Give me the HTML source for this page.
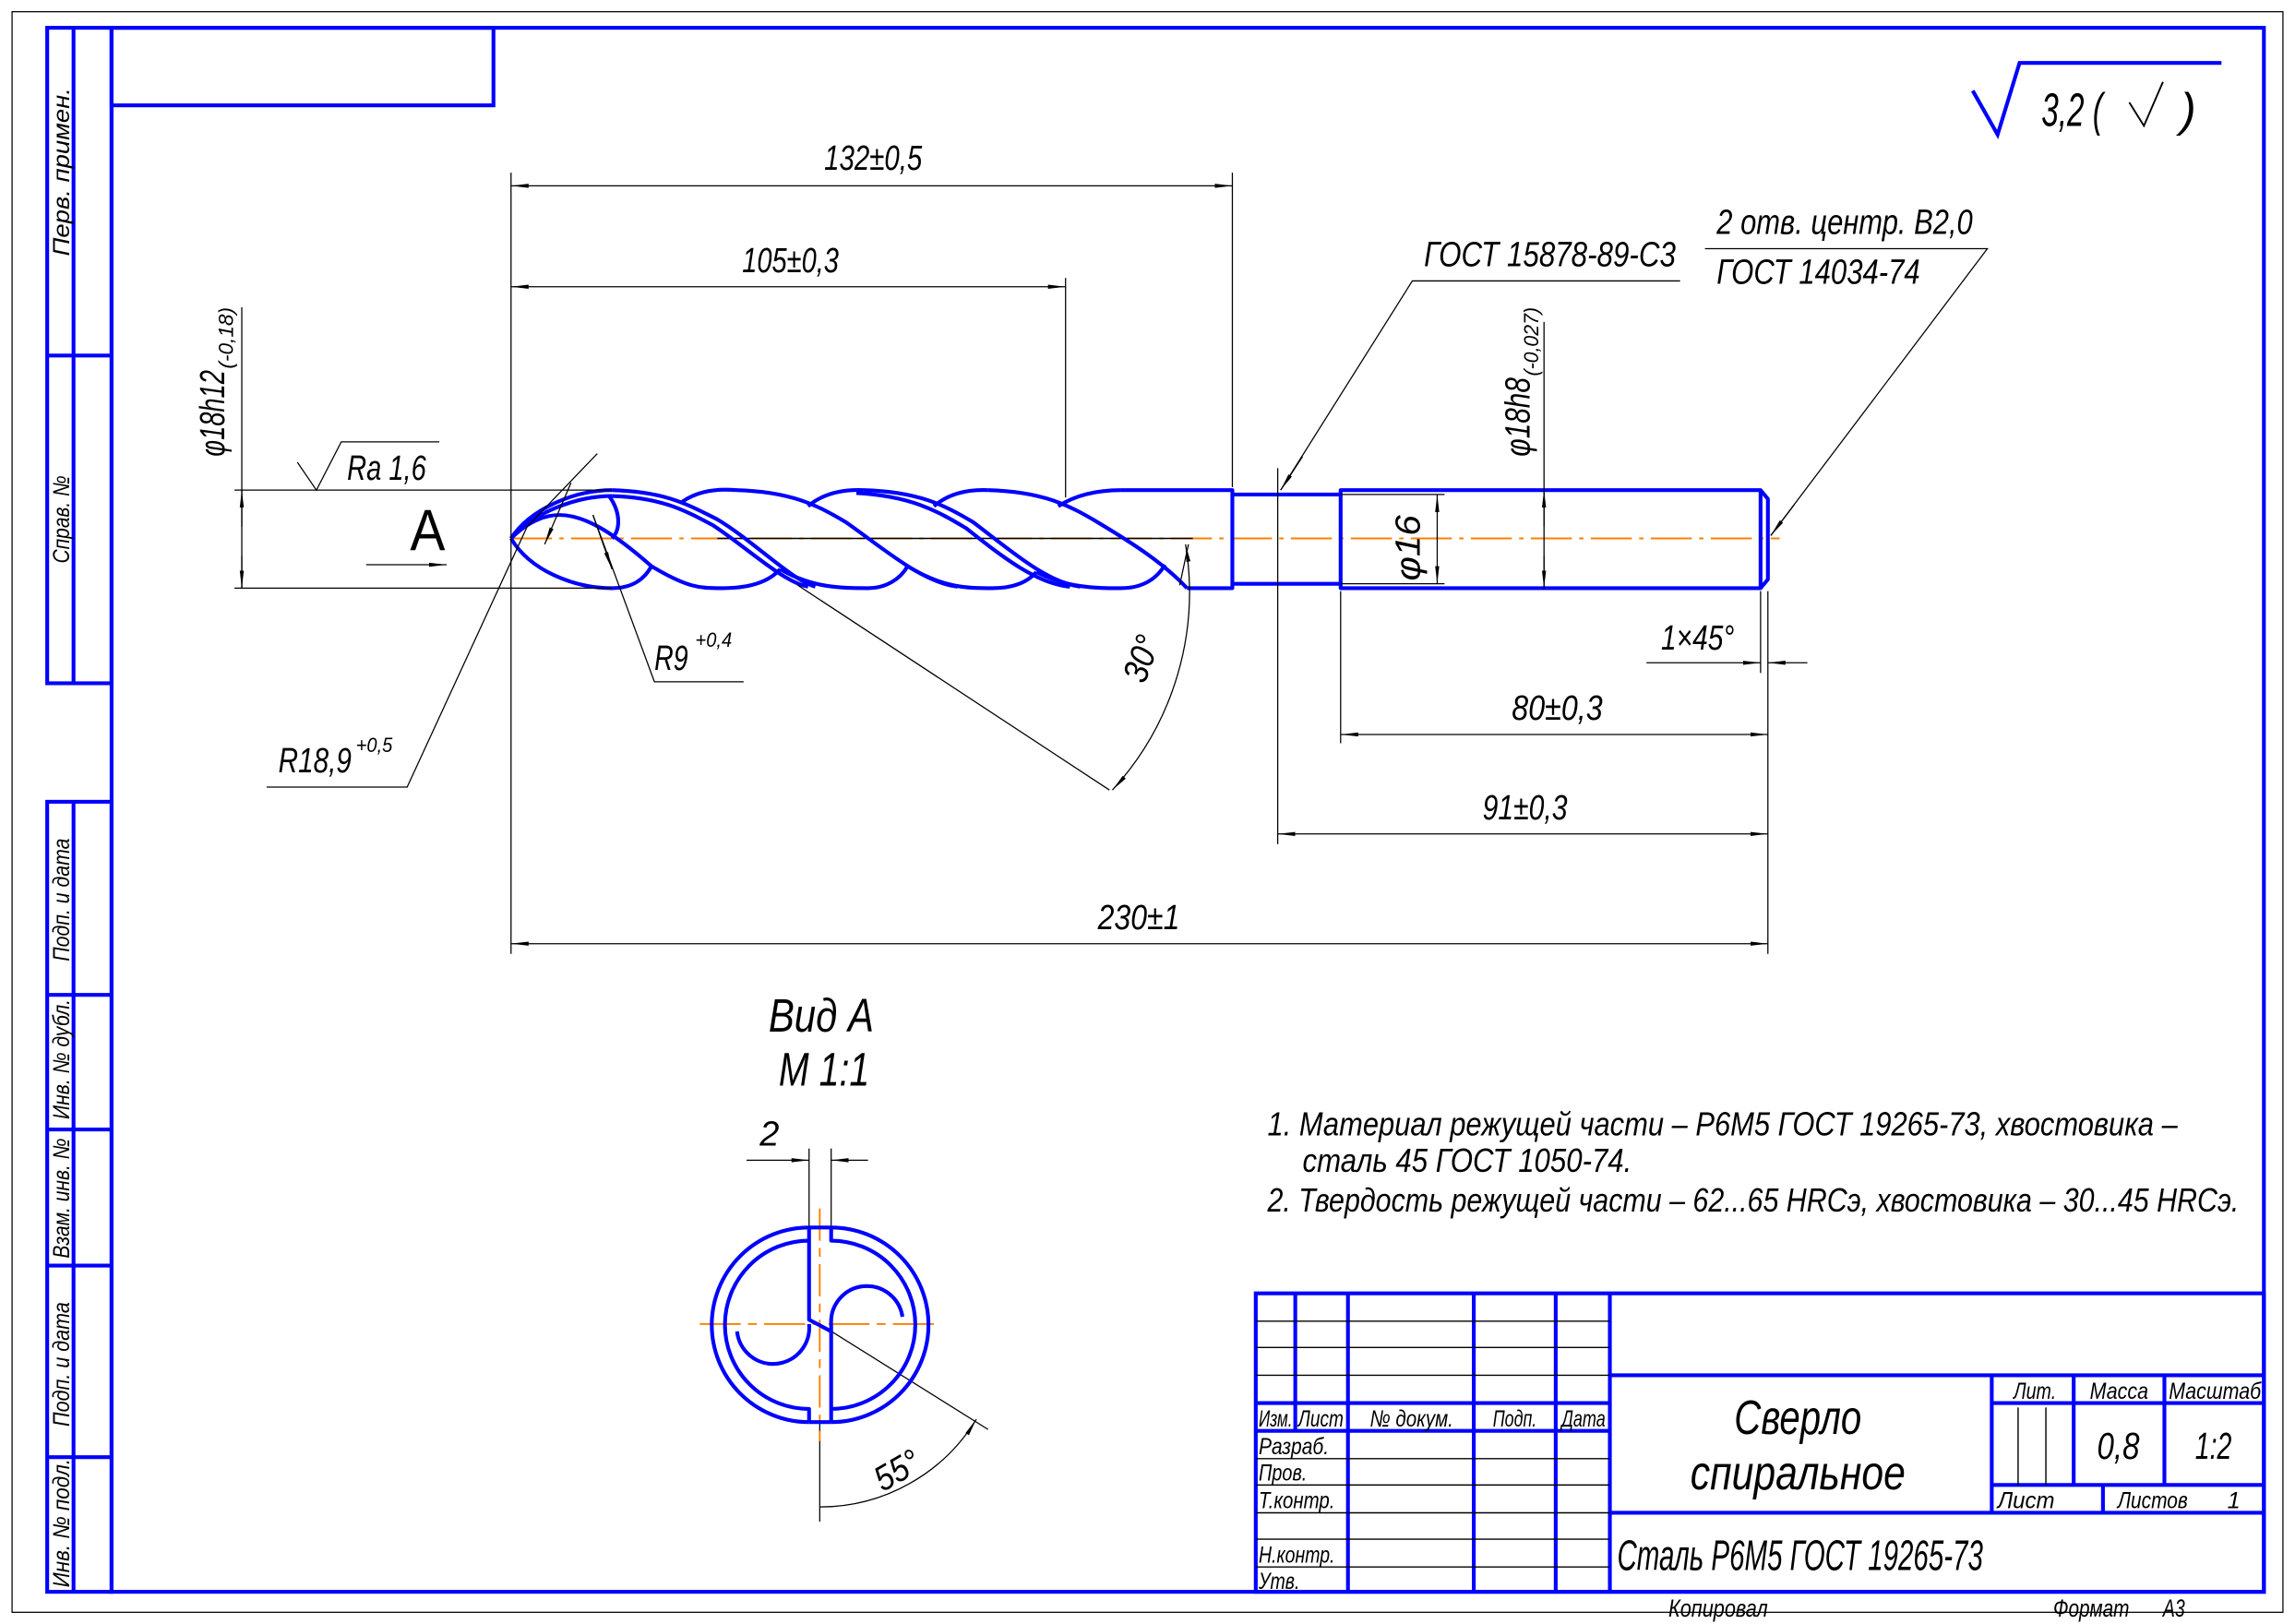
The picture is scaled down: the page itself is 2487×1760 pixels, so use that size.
<!DOCTYPE html>
<html><head><meta charset="utf-8">
<style>
html,body{margin:0;padding:0;background:#fff;}
svg{display:block;}
text{font-family:"Liberation Sans Narrow","Liberation Sans","DejaVu Sans",sans-serif;font-style:italic;fill:#000;}
</style></head>
<body>
<svg width="2487" height="1760" viewBox="0 0 1568 1110" xmlns="http://www.w3.org/2000/svg">
<defs>
<marker id="ar" viewBox="0 0 12 4" refX="12" refY="2" markerWidth="12" markerHeight="4" markerUnits="userSpaceOnUse" orient="auto-start-reverse">
<path d="M0,0.6 L12,2 L0,3.4 Z" fill="#000"/>
</marker>
</defs>
<rect x="0" y="0" width="1568" height="1110" fill="#fff"/>
<rect x="8" y="8" width="1552" height="1094" fill="none" stroke="#000" stroke-width="0.8"/>
<g stroke="#0000ff" stroke-width="2.6" fill="none">
<rect x="76" y="19" width="1471" height="1069"/>
<rect x="76" y="19" width="261" height="53"/>
<rect x="32" y="19" width="44" height="448"/>
<line x1="50" y1="19" x2="50" y2="467"/>
<line x1="32" y1="243" x2="76" y2="243"/>
<rect x="32" y="548" width="44" height="540"/>
<line x1="50" y1="548" x2="50" y2="1088"/>
<line x1="32" y1="680" x2="76" y2="680"/>
<line x1="32" y1="772" x2="76" y2="772"/>
<line x1="32" y1="865" x2="76" y2="865"/>
<line x1="32" y1="996" x2="76" y2="996"/>
</g>
<g font-size="16" lengthAdjust="spacingAndGlyphs">
<text transform="translate(47,175) rotate(-90)" textLength="115" lengthAdjust="spacingAndGlyphs">Перв. примен.</text>
<text transform="translate(47,385) rotate(-90)" textLength="60" lengthAdjust="spacingAndGlyphs">Справ. №</text>
<text transform="translate(47,657) rotate(-90)" textLength="84" lengthAdjust="spacingAndGlyphs">Подп. и дата</text>
<text transform="translate(47,765) rotate(-90)" textLength="82" lengthAdjust="spacingAndGlyphs">Инв. № дубл.</text>
<text transform="translate(47,860) rotate(-90)" textLength="82" lengthAdjust="spacingAndGlyphs">Взам. инв. №</text>
<text transform="translate(47,975) rotate(-90)" textLength="85" lengthAdjust="spacingAndGlyphs">Подп. и дата</text>
<text transform="translate(47,1085) rotate(-90)" textLength="88" lengthAdjust="spacingAndGlyphs">Инв. № подл.</text>
</g>

<polyline points="1348,62 1365,92 1380,43 1518,43" fill="none" stroke="#0000ff" stroke-width="2.6"/>
<text x="1395" y="86" font-size="32" textLength="42" lengthAdjust="spacingAndGlyphs">3,2 (</text>
<polyline points="1455,70 1465,86 1478,56" fill="none" stroke="#000" stroke-width="1.2"/>
<text x="1490" y="86" font-size="32">)</text>

<line x1="349" y1="368" x2="1216" y2="368" stroke="#ff8000" stroke-width="1.2" stroke-dasharray="28,5,3,5"/>
<line x1="490" y1="368" x2="815" y2="368" stroke="#000" stroke-width="0.9"/>

<g stroke="#0000ff" stroke-width="2.6" fill="none" stroke-linejoin="round">
<path d="M766,335 L842,335 L842,402 L811,402"/>
<path d="M842,338 L916,338 M842,399 L916,399"/>
<path d="M916,335 L1203,335 L1208,341 L1208,396 L1203,402 L916,402 Z"/>
<line x1="1203" y1="335" x2="1203" y2="402"/>
<path d="M349,368 C362,348 392,335 418,335"/>
<path d="M349,368 C362,352 392,339 418,339"/>
<path d="M349,368 C362,390 392,402 418,402 C432,402 440,396 445,387"/>
<path d="M349,368 C362,355 374,352 382,352 C400,352 420,365 445,387"/>
<path d="M416,339 C424,350 424,362 418,368"/>
<path d="M418,335 C455,336 470,345 490,355 C515,370 540,396 557,401"/>
<path d="M418,339 C452,340 468,349 487,359 C510,374 535,398 552,401"/>
<path d="M503,335 C540,336 558,345 578,357 C605,376 630,398 654,401"/>
<path d="M590,335 C627,336 645,345 665,357 C690,376 715,398 738,401"/>
<path d="M585,337 C622,339 640,349 660,361 C684,380 708,399 731,401"/>
<path d="M675,335 C712,336 730,345 750,357 C775,372 795,385 811,402"/>
<path d="M466,343 Q480,333 503,335"/>
<path d="M552,346 Q566,334 590,335"/>
<path d="M638,346 Q652,334 675,335"/>
<path d="M723,346 Q740,335 766,335"/>
<path d="M445,387 C470,402 478,402 494,402 C512,402 525,398 533,389"/>
<path d="M533,389 C555,402 575,402 593,402 C605,402 615,396 620,387"/>
<path d="M620,387 C645,402 660,402 678,402 C692,402 702,398 708,391"/>
<path d="M708,391 C730,402 748,402 766,402 C780,402 790,396 796,386"/>
</g>

<g stroke="#000" stroke-width="0.8" fill="none">
<line x1="349" y1="118" x2="349" y2="652"/>
<line x1="842" y1="118" x2="842" y2="333"/>
<line x1="349" y1="127" x2="842" y2="127" marker-start="url(#ar)" marker-end="url(#ar)"/>
<line x1="728" y1="190" x2="728" y2="340"/>
<line x1="349" y1="196" x2="728" y2="196" marker-start="url(#ar)" marker-end="url(#ar)"/>
<line x1="1208" y1="404" x2="1208" y2="652"/>
<line x1="349" y1="645" x2="1208" y2="645" marker-start="url(#ar)" marker-end="url(#ar)"/>
<line x1="873" y1="320" x2="873" y2="577"/>
<line x1="873" y1="570" x2="1208" y2="570" marker-start="url(#ar)" marker-end="url(#ar)"/>
<line x1="916" y1="404" x2="916" y2="508"/>
<line x1="916" y1="502" x2="1208" y2="502" marker-start="url(#ar)" marker-end="url(#ar)"/>
<line x1="1203" y1="404" x2="1203" y2="460"/>
<line x1="1125" y1="453" x2="1203" y2="453" marker-end="url(#ar)"/>
<line x1="1235" y1="453" x2="1208" y2="453" marker-end="url(#ar)"/>
<line x1="160" y1="335" x2="418" y2="335"/>
<line x1="160" y1="402" x2="418" y2="402"/>
<line x1="165" y1="210" x2="165" y2="402" />
<line x1="165" y1="360" x2="165" y2="335" marker-end="url(#ar)"/>
<line x1="165" y1="380" x2="165" y2="402" marker-end="url(#ar)"/>
<polyline points="203,316 216,335 233,302 300,302"/>
<line x1="250" y1="386" x2="305" y2="386" marker-end="url(#ar)"/>
<polyline points="182,538 278,538 360,360 408,310"/>
<line x1="390" y1="330" x2="372" y2="372" marker-end="url(#ar)"/>
<polyline points="508,466 447,466 405,352"/>
<line x1="405" y1="352" x2="418" y2="389" marker-end="url(#ar)"/>
<line x1="545" y1="400" x2="758" y2="540"/>
<line x1="812" y1="372" x2="806" y2="400"/>
<path d="M810,372 A200,200 0 0 1 760,540" marker-start="url(#ar)" marker-end="url(#ar)"/>
<polyline points="1148,192 965,192 875,335"/>
<line x1="890" y1="312" x2="875" y2="335" marker-end="url(#ar)"/>
<polyline points="1165,170 1358,170 1210,366"/>
<line x1="1226" y1="345" x2="1210" y2="366" marker-end="url(#ar)"/>
<line x1="1055" y1="220" x2="1055" y2="402"/>
<line x1="1055" y1="360" x2="1055" y2="335" marker-end="url(#ar)"/>
<line x1="1055" y1="380" x2="1055" y2="402" marker-end="url(#ar)"/>
<line x1="916" y1="338" x2="987" y2="338"/>
<line x1="916" y1="399" x2="987" y2="399"/>
<line x1="982" y1="338" x2="982" y2="399" marker-start="url(#ar)" marker-end="url(#ar)"/>
</g>
<g font-size="24">
<text x="563" y="116" textLength="67" lengthAdjust="spacingAndGlyphs">132±0,5</text>
<text x="507" y="186" textLength="66" lengthAdjust="spacingAndGlyphs">105±0,3</text>
<text x="750" y="635" textLength="56" lengthAdjust="spacingAndGlyphs">230±1</text>
<text x="1013" y="560" textLength="58" lengthAdjust="spacingAndGlyphs">91±0,3</text>
<text x="1033" y="492" textLength="62" lengthAdjust="spacingAndGlyphs">80±0,3</text>
<text x="1135" y="444" textLength="50" lengthAdjust="spacingAndGlyphs">1×45°</text>
<text x="237" y="328" textLength="54" lengthAdjust="spacingAndGlyphs">Ra 1,6</text>
<text x="190" y="528" textLength="50" lengthAdjust="spacingAndGlyphs">R18,9</text>
<text x="243" y="514" font-size="14" textLength="25" lengthAdjust="spacingAndGlyphs">+0,5</text>
<text x="447" y="458" textLength="23" lengthAdjust="spacingAndGlyphs">R9</text>
<text x="475" y="442" font-size="14" textLength="25" lengthAdjust="spacingAndGlyphs">+0,4</text>
<text transform="translate(782,468) rotate(-70)" textLength="32" lengthAdjust="spacingAndGlyphs">30°</text>
<text x="973" y="182" textLength="172" lengthAdjust="spacingAndGlyphs">ГОСТ 15878-89-С3</text>
<text x="1173" y="160" textLength="175" lengthAdjust="spacingAndGlyphs">2 отв. центр. В2,0</text>
<text x="1173" y="194" textLength="139" lengthAdjust="spacingAndGlyphs">ГОСТ 14034-74</text>
<text transform="translate(153,312) rotate(-90)"><tspan textLength="59" lengthAdjust="spacingAndGlyphs">φ18h12</tspan></text>
<text transform="translate(159,252) rotate(-90)" font-size="14" textLength="42" lengthAdjust="spacingAndGlyphs">(-0,18)</text>
<text transform="translate(1045,312) rotate(-90)"><tspan textLength="54" lengthAdjust="spacingAndGlyphs">φ18h8</tspan></text>
<text transform="translate(1051,257) rotate(-90)" font-size="14" textLength="47" lengthAdjust="spacingAndGlyphs">(-0,027)</text>
<text transform="translate(970,397) rotate(-90)" textLength="45" lengthAdjust="spacingAndGlyphs">φ16</text>
</g>
<text x="280" y="376" font-size="40" style="font-style:normal" textLength="24" lengthAdjust="spacingAndGlyphs">A</text>

<text x="525" y="705" font-size="32" textLength="72" lengthAdjust="spacingAndGlyphs">Вид А</text>
<text x="532" y="742" font-size="32" textLength="62" lengthAdjust="spacingAndGlyphs">М 1:1</text>
<text x="519" y="783" font-size="24">2</text>
<g stroke="#000" stroke-width="0.8" fill="none">
<line x1="552.7" y1="785" x2="552.7" y2="840"/>
<line x1="567.8" y1="785" x2="567.8" y2="840"/>
<line x1="510" y1="793" x2="552.7" y2="793" marker-end="url(#ar)"/>
<line x1="593" y1="793" x2="567.8" y2="793" marker-end="url(#ar)"/>
<line x1="560" y1="905" x2="675" y2="977"/>
<line x1="560" y1="972" x2="560" y2="1040"/>
<path d="M560,1030 A125,125 0 0 0 667,970" marker-end="url(#ar)"/>
</g>
<text transform="translate(603,1020) rotate(-30)" font-size="24" textLength="32" lengthAdjust="spacingAndGlyphs">55°</text>
<g stroke="#ff8000" stroke-width="1.2" fill="none">
<line x1="478" y1="905" x2="642" y2="905" stroke-dasharray="28,5,6,5"/>
<line x1="560" y1="826" x2="560" y2="985" stroke-dasharray="22,5,6,5"/>
</g>
<g stroke="#0000ff" stroke-width="2.6" fill="none" stroke-linejoin="round">
<path d="M552.7,839 A66,66 0 0 0 552.7,972"/>
<path d="M567.8,839 A66,66 0 0 1 567.8,972"/>
<line x1="552.7" y1="839" x2="567.8" y2="839"/>
<line x1="552.7" y1="972" x2="567.8" y2="972"/>
<path d="M552.7,839 L552.7,902 L567.8,910"/>
<path d="M567.8,839 L567.8,848 A57,57 0 0 1 567.8,963 M567.8,905 L567.8,972"/>
<path d="M552.7,848 A57,57 0 0 0 552.7,963 L552.7,972"/>
<path d="M552.7,905 A24.5,24.5 0 0 1 503.5,910"/>
<path d="M567.8,905 A24.5,24.5 0 0 1 616.5,900"/>
</g>

<g font-size="23">
<text x="866" y="776" textLength="622" lengthAdjust="spacingAndGlyphs">1. Материал режущей части – Р6М5 ГОСТ 19265-73, хвостовика –</text>
<text x="890" y="801" textLength="225" lengthAdjust="spacingAndGlyphs">сталь 45 ГОСТ 1050-74.</text>
<text x="866" y="828" textLength="664" lengthAdjust="spacingAndGlyphs">2. Твердость режущей части – 62...65 HRCэ, хвостовика – 30...45 HRCэ.</text>
</g>

<g stroke="#0000ff" stroke-width="2.6" fill="none">
<rect x="858" y="884" width="689" height="204"/>
<line x1="885" y1="884" x2="885" y2="978"/>
<line x1="921" y1="884" x2="921" y2="1088"/>
<line x1="1007" y1="884" x2="1007" y2="1088"/>
<line x1="1063" y1="884" x2="1063" y2="1088"/>
<line x1="1100" y1="884" x2="1100" y2="1088"/>
<line x1="858" y1="959" x2="1100" y2="959"/>
<line x1="858" y1="978" x2="1100" y2="978"/>
<line x1="1100" y1="940" x2="1547" y2="940"/>
<line x1="1361" y1="940" x2="1361" y2="1034"/>
<line x1="1417" y1="940" x2="1417" y2="1015"/>
<line x1="1479" y1="940" x2="1479" y2="1015"/>
<line x1="1361" y1="959" x2="1547" y2="959"/>
<line x1="1361" y1="1015" x2="1547" y2="1015"/>
<line x1="1437" y1="1015" x2="1437" y2="1034"/>
<line x1="1100" y1="1034" x2="1547" y2="1034"/>
</g>
<g stroke="#000" stroke-width="0.9">
<line x1="858" y1="903" x2="1100" y2="903"/>
<line x1="858" y1="921" x2="1100" y2="921"/>
<line x1="858" y1="940" x2="1100" y2="940"/>
<line x1="858" y1="997" x2="1100" y2="997"/>
<line x1="858" y1="1015" x2="1100" y2="1015"/>
<line x1="858" y1="1034" x2="1100" y2="1034"/>
<line x1="858" y1="1052" x2="1100" y2="1052"/>
<line x1="858" y1="1071" x2="1100" y2="1071"/>
<line x1="1379" y1="962" x2="1379" y2="1015"/>
<line x1="1398" y1="962" x2="1398" y2="1015"/>
</g>
<g font-size="16">
<text x="860" y="975" textLength="23" lengthAdjust="spacingAndGlyphs">Изм.</text>
<text x="887" y="975" textLength="31" lengthAdjust="spacingAndGlyphs">Лист</text>
<text x="936" y="975" textLength="57" lengthAdjust="spacingAndGlyphs">№ докум.</text>
<text x="1020" y="975" textLength="30" lengthAdjust="spacingAndGlyphs">Подп.</text>
<text x="1067" y="975" textLength="30" lengthAdjust="spacingAndGlyphs">Дата</text>
<text x="860" y="994" textLength="48" lengthAdjust="spacingAndGlyphs">Разраб.</text>
<text x="860" y="1012" textLength="33" lengthAdjust="spacingAndGlyphs">Пров.</text>
<text x="860" y="1031" textLength="52" lengthAdjust="spacingAndGlyphs">Т.контр.</text>
<text x="860" y="1068" textLength="52" lengthAdjust="spacingAndGlyphs">Н.контр.</text>
<text x="860" y="1086" textLength="28" lengthAdjust="spacingAndGlyphs">Утв.</text>
<text x="1376" y="956" textLength="29" lengthAdjust="spacingAndGlyphs">Лит.</text>
<text x="1428" y="956" textLength="40" lengthAdjust="spacingAndGlyphs">Масса</text>
<text x="1482" y="956" textLength="63" lengthAdjust="spacingAndGlyphs">Масштаб</text>
<text x="1365" y="1031" textLength="39" lengthAdjust="spacingAndGlyphs">Лист</text>
<text x="1447" y="1031" textLength="48" lengthAdjust="spacingAndGlyphs">Листов</text>
<text x="1522" y="1031">1</text>
</g>
<text x="1433" y="997" font-size="26" textLength="29" lengthAdjust="spacingAndGlyphs">0,8</text>
<text x="1500" y="997" font-size="26" textLength="25" lengthAdjust="spacingAndGlyphs">1:2</text>
<text x="1185" y="980" font-size="33" textLength="87" lengthAdjust="spacingAndGlyphs">Сверло</text>
<text x="1155" y="1018" font-size="33" textLength="147" lengthAdjust="spacingAndGlyphs">спиральное</text>
<text x="1105" y="1073" font-size="29" textLength="250" lengthAdjust="spacingAndGlyphs">Сталь Р6М5 ГОСТ 19265-73</text>
<text x="1140" y="1105" font-size="17" textLength="68" lengthAdjust="spacingAndGlyphs">Копировал</text>
<text x="1403" y="1105" font-size="17" textLength="52" lengthAdjust="spacingAndGlyphs">Формат</text>
<text x="1478" y="1105" font-size="17" textLength="15" lengthAdjust="spacingAndGlyphs">А3</text>
</svg>
</body></html>
